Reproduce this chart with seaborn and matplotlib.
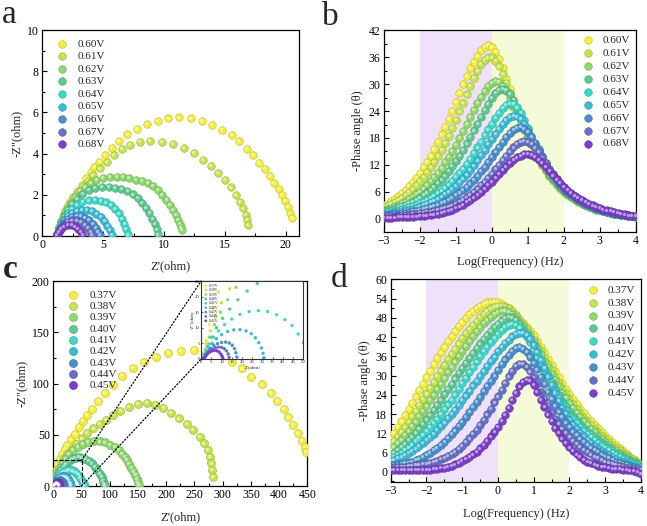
import matplotlib
matplotlib.use("Agg")
import matplotlib.pyplot as plt
import matplotlib.transforms as mtransforms
from matplotlib.colors import to_rgb
from matplotlib.patches import ConnectionPatch
from matplotlib.ticker import MultipleLocator
import numpy as np
import seaborn as sns

# potentials of the two sample sets
volts_ab = ["0.60V", "0.61V", "0.62V", "0.63V", "0.64V", "0.65V", "0.66V", "0.67V", "0.68V"]
volts_cd = ["0.37V", "0.38V", "0.39V", "0.40V", "0.41V", "0.42V", "0.43V", "0.44V", "0.45V"]
colors = ["#f3ee3c", "#c3e44c", "#8fd86c", "#5ec88f", "#3ed8c8",
          "#3bbad6", "#4a8ecd", "#6670c6", "#7b40c8"]

# shaded frequency windows (log Hz)
band_low = (-2, 0)
band_high = (0, 2)

# ---- panel a : Nyquist, 0.60-0.68 V ----
a_060_x = [1.2, 1.35, 1.55, 1.75, 2.0, 2.25, 2.5, 2.83, 3.23, 3.59, 3.97, 4.28, 4.69, 5.15, 5.70, 6.30, 6.99,
           7.75, 8.58, 9.48, 10.36, 11.26, 12.19, 13.10, 13.97, 14.77, 15.56, 16.19, 16.79, 17.34, 17.83,
           18.30, 18.71, 19.07, 19.42, 19.70, 19.94, 20.16, 20.35, 20.52]
a_060_y = [0.1, 0.4, 0.75, 1.05, 1.4, 1.65, 1.9, 2.15, 2.47, 2.80, 3.12, 3.37, 3.61, 3.93, 4.26, 4.63, 4.93,
           5.18, 5.44, 5.60, 5.71, 5.76, 5.71, 5.58, 5.39, 5.14, 4.89, 4.60, 4.24, 3.92, 3.56,
           3.24, 2.92, 2.59, 2.27, 1.99, 1.72, 1.43, 1.10, 0.86]
a_061_x = [1.2, 1.4, 1.65, 1.9, 2.2, 2.55, 2.95, 3.35, 3.75, 4.19, 4.74, 5.29, 5.89, 6.52, 7.21, 8.03, 8.85,
           9.86, 10.77, 11.67, 12.47, 13.18, 13.84, 14.47, 15.01, 15.48, 15.92, 16.24, 16.52, 16.74, 16.85, 16.93]
a_061_y = [0.1, 0.45, 0.85, 1.2, 1.55, 1.9, 2.2, 2.45, 2.68, 2.95, 3.28, 3.61, 3.93, 4.21, 4.42, 4.55, 4.60,
           4.58, 4.47, 4.26, 4.02, 3.69, 3.40, 3.07, 2.72, 2.36, 1.99, 1.66, 1.34, 1.02, 0.78, 0.53]
a_062_x = [1.2, 1.35, 1.55, 1.8, 2.05, 2.35, 2.7, 3.1, 3.5, 3.95, 4.45, 5.0, 5.55, 6.1, 6.65, 7.15, 7.7, 8.2,
           8.7, 9.1, 9.5, 9.85, 10.2, 10.5, 10.75, 10.95, 11.15, 11.3, 11.4, 11.5]
a_062_y = [0.1, 0.4, 0.7, 1.0, 1.3, 1.6, 1.9, 2.17, 2.4, 2.58, 2.72, 2.82, 2.86, 2.88, 2.86, 2.82, 2.74, 2.66,
           2.56, 2.42, 2.23, 2.0, 1.75, 1.5, 1.26, 1.02, 0.8, 0.58, 0.42, 0.28]
a_063_x = [1.2, 1.35, 1.55, 1.8, 2.1, 2.45, 2.85, 3.3, 3.8, 4.35, 4.9, 5.45, 6.0, 6.5, 7.0, 7.45, 7.85, 8.2,
           8.5, 8.8, 9.05, 9.25, 9.4, 9.5]
a_063_y = [0.08, 0.35, 0.65, 0.95, 1.25, 1.55, 1.82, 2.05, 2.22, 2.33, 2.38, 2.38, 2.35, 2.28, 2.17, 2.02,
           1.84, 1.62, 1.38, 1.12, 0.85, 0.58, 0.32, 0.08]
a_064_x = [1.2, 1.35, 1.55, 1.8, 2.1, 2.45, 2.85, 3.3, 3.8, 4.3, 4.8, 5.25, 5.65, 6.0, 6.3, 6.55, 6.75, 6.9, 7.05]
a_064_y = [0.08, 0.3, 0.58, 0.85, 1.1, 1.33, 1.52, 1.65, 1.73, 1.75, 1.72, 1.63, 1.5, 1.32, 1.1, 0.85, 0.6, 0.35, 0.08]
a_065_x = [1.2, 1.35, 1.55, 1.8, 2.1, 2.45, 2.85, 3.25, 3.65, 4.05, 4.45, 4.8, 5.1, 5.35, 5.55, 5.7]
a_065_y = [0.07, 0.28, 0.52, 0.76, 0.97, 1.13, 1.23, 1.27, 1.26, 1.2, 1.08, 0.92, 0.72, 0.5, 0.28, 0.07]
a_066_x = [1.2, 1.35, 1.55, 1.8, 2.1, 2.45, 2.8, 3.15, 3.5, 3.85, 4.15, 4.4, 4.6, 4.75]
a_066_y = [0.07, 0.25, 0.45, 0.65, 0.82, 0.93, 0.97, 0.96, 0.89, 0.77, 0.6, 0.4, 0.2, 0.05]
a_067_x = [1.2, 1.35, 1.55, 1.8, 2.1, 2.45, 2.8, 3.15, 3.5, 3.75, 3.95, 4.1]
a_067_y = [0.06, 0.22, 0.4, 0.56, 0.69, 0.76, 0.76, 0.69, 0.55, 0.38, 0.2, 0.05]
a_068_x = [1.2, 1.35, 1.55, 1.8, 2.1, 2.4, 2.7, 2.95, 3.15, 3.3]
a_068_y = [0.06, 0.2, 0.35, 0.47, 0.55, 0.55, 0.47, 0.34, 0.18, 0.04]

# ---- panels b and d : Bode phase, 10 points per decade ----
logf = [-3.0, -2.9, -2.8, -2.7, -2.6, -2.5, -2.4, -2.3, -2.2, -2.1,
        -2.0, -1.9, -1.8, -1.7, -1.6, -1.5, -1.4, -1.3, -1.2, -1.1,
        -1.0, -0.9, -0.8, -0.7, -0.6, -0.5, -0.4, -0.3, -0.2, -0.1,
        0.0, 0.1, 0.2, 0.3, 0.4, 0.5, 0.6, 0.7, 0.8, 0.9,
        1.0, 1.1, 1.2, 1.3, 1.4, 1.5, 1.6, 1.7, 1.8, 1.9,
        2.0, 2.1, 2.2, 2.3, 2.4, 2.5, 2.6, 2.7, 2.8, 2.9,
        3.0, 3.1, 3.2, 3.3, 3.4, 3.5, 3.6, 3.7, 3.8, 3.9,
        4.0]

b_060 = [3.0, 3.4, 3.9, 4.4, 5.0, 5.7, 6.4, 7.3, 8.2, 9.2,
         10.3, 11.5, 12.7, 14.1, 15.5, 17.1, 18.8, 20.5, 22.3, 24.1,
         26.0, 28.0, 30.0, 31.8, 33.5, 35.0, 36.3, 37.5, 38.3, 38.6,
         38.2, 37.2, 35.6, 33.5, 31.2, 28.8, 26.5, 24.3, 22.3, 20.3,
         18.5, 16.7, 15.0, 13.4, 12.0, 10.7, 9.5, 8.5, 7.5, 6.7,
         6.0, 5.4, 4.8, 4.3, 3.8, 3.4, 3.0, 2.7, 2.4, 2.1,
         1.9, 1.7, 1.5, 1.3, 1.2, 1.0, 0.9, 0.8, 0.7, 0.6,
         0.5]
b_061 = [2.6, 2.9, 3.3, 3.7, 4.2, 4.7, 5.3, 6.0, 6.7, 7.5,
         8.4, 9.4, 10.4, 11.5, 12.7, 14.0, 15.4, 16.9, 18.5, 20.2,
         22.0, 23.9, 25.8, 27.7, 29.6, 31.4, 33.0, 34.4, 35.4, 35.9,
         35.9, 35.2, 33.9, 32.2, 30.2, 28.1, 26.0, 24.0, 22.0, 20.1,
         18.4, 16.7, 15.0, 13.5, 12.1, 10.8, 9.6, 8.6, 7.6, 6.8,
         6.1, 5.5, 4.9, 4.4, 3.9, 3.5, 3.1, 2.7, 2.4, 2.1,
         1.9, 1.7, 1.5, 1.3, 1.2, 1.0, 0.9, 0.8, 0.7, 0.6,
         0.5]
b_062 = [2.0, 2.2, 2.5, 2.8, 3.1, 3.5, 3.9, 4.4, 4.9, 5.5,
         6.1, 6.8, 7.6, 8.4, 9.3, 10.3, 11.4, 12.6, 13.8, 15.1,
         16.5, 18.0, 19.5, 21.1, 22.7, 24.3, 25.8, 27.2, 28.4, 29.5,
         30.2, 30.6, 30.4, 29.6, 28.4, 26.8, 25.0, 23.2, 21.5, 19.8,
         18.2, 16.6, 15.1, 13.6, 12.2, 11.0, 9.8, 8.8, 7.8, 7.0,
         6.2, 5.6, 5.0, 4.5, 4.0, 3.5, 3.1, 2.8, 2.5, 2.2,
         1.9, 1.7, 1.5, 1.3, 1.2, 1.0, 0.9, 0.8, 0.7, 0.6,
         0.5]
b_063 = [1.7, 1.9, 2.1, 2.3, 2.6, 2.9, 3.2, 3.5, 3.9, 4.3,
         4.8, 5.3, 5.9, 6.5, 7.2, 8.0, 8.8, 9.7, 10.7, 11.8,
         12.9, 14.1, 15.4, 16.8, 18.2, 19.7, 21.2, 22.7, 24.2, 25.6,
         26.9, 28.0, 28.7, 29.0, 28.7, 27.8, 26.4, 24.7, 22.8, 20.9,
         19.1, 17.4, 15.7, 14.1, 12.6, 11.2, 10.0, 8.9, 7.9, 7.1,
         6.3, 5.7, 5.1, 4.6, 4.1, 3.6, 3.2, 2.8, 2.5, 2.2,
         2.0, 1.8, 1.6, 1.4, 1.2, 1.0, 0.9, 0.8, 0.7, 0.6,
         0.5]
b_064 = [1.4, 1.55, 1.7, 1.85, 2.0, 2.2, 2.4, 2.65, 2.9, 3.2,
         3.5, 3.9, 4.3, 4.7, 5.2, 5.7, 6.3, 7.0, 7.7, 8.5,
         9.3, 10.2, 11.2, 12.3, 13.4, 14.6, 15.9, 17.2, 18.6, 19.9,
         21.2, 22.4, 23.6, 24.6, 25.3, 25.7, 25.6, 24.8, 23.5, 21.9,
         20.2, 18.4, 16.7, 15.0, 13.4, 11.9, 10.6, 9.4, 8.3, 7.4,
         6.5, 5.8, 5.2, 4.7, 4.2, 3.7, 3.3, 2.9, 2.6, 2.3,
         2.0, 1.8, 1.6, 1.4, 1.2, 1.0, 0.9, 0.8, 0.7, 0.6,
         0.5]
b_065 = [1.1, 1.2, 1.3, 1.45, 1.6, 1.75, 1.9, 2.1, 2.3, 2.55,
         2.8, 3.1, 3.4, 3.75, 4.1, 4.5, 5.0, 5.5, 6.1, 6.7,
         7.4, 8.2, 9.0, 9.9, 10.9, 11.9, 13.0, 14.2, 15.4, 16.6,
         17.8, 19.0, 20.1, 21.2, 22.1, 22.7, 23.0, 22.8, 22.2, 21.1,
         19.8, 18.3, 16.7, 15.1, 13.6, 12.2, 10.8, 9.6, 8.5, 7.6,
         6.7, 6.0, 5.3, 4.8, 4.3, 3.8, 3.4, 3.0, 2.7, 2.4,
         2.1, 1.8, 1.6, 1.4, 1.3, 1.1, 1.0, 0.8, 0.7, 0.6,
         0.5]
b_066 = [0.9, 0.95, 1.0, 1.1, 1.2, 1.3, 1.4, 1.55, 1.7, 1.85,
         2.0, 2.2, 2.4, 2.65, 2.9, 3.2, 3.5, 3.9, 4.3, 4.8,
         5.3, 5.9, 6.5, 7.2, 7.9, 8.7, 9.6, 10.6, 11.6, 12.7,
         13.8, 14.9, 16.0, 17.1, 18.2, 19.1, 19.8, 20.2, 20.4, 20.0,
         19.3, 18.2, 16.9, 15.5, 14.0, 12.5, 11.1, 9.9, 8.8, 7.8,
         6.9, 6.2, 5.5, 4.9, 4.4, 3.9, 3.5, 3.1, 2.8, 2.5,
         2.2, 1.9, 1.7, 1.5, 1.3, 1.2, 1.0, 0.9, 0.8, 0.7,
         0.6]
b_067 = [0.6, 0.65, 0.7, 0.75, 0.8, 0.85, 0.9, 1.0, 1.1, 1.2,
         1.3, 1.4, 1.5, 1.65, 1.8, 2.0, 2.2, 2.45, 2.7, 3.0,
         3.4, 3.8, 4.3, 4.8, 5.4, 6.0, 6.7, 7.5, 8.3, 9.2,
         10.1, 11.1, 12.1, 13.1, 14.1, 15.0, 15.9, 16.6, 17.1, 17.4,
         17.2, 16.7, 15.9, 14.9, 13.7, 12.4, 11.1, 9.9, 8.8, 7.9,
         7.0, 6.3, 5.6, 5.0, 4.5, 4.0, 3.6, 3.2, 2.9, 2.6,
         2.3, 2.0, 1.8, 1.6, 1.4, 1.2, 1.0, 0.9, 0.8, 0.7,
         0.6]
b_068 = [0.3, 0.3, 0.3, 0.35, 0.4, 0.4, 0.4, 0.45, 0.5, 0.55,
         0.6, 0.7, 0.8, 0.9, 1.0, 1.15, 1.3, 1.5, 1.8, 2.1,
         2.4, 2.8, 3.2, 3.7, 4.2, 4.8, 5.4, 6.1, 6.8, 7.5,
         8.3, 9.1, 10.0, 10.9, 11.7, 12.4, 13.1, 13.7, 14.1, 14.4,
         14.5, 14.3, 13.8, 13.2, 12.4, 11.5, 10.6, 9.7, 8.8, 8.0,
         7.2, 6.5, 5.8, 5.2, 4.7, 4.2, 3.8, 3.4, 3.0, 2.7,
         2.4, 2.1, 1.9, 1.7, 1.5, 1.3, 1.1, 1.0, 0.8, 0.7,
         0.6]

d_037 = [10.3, 12.1, 13.9, 15.7, 17.6, 19.5, 21.5, 23.5, 25.5, 27.5,
         29.5, 31.5, 33.5, 35.4, 37.2, 39.0, 40.8, 42.4, 44.0, 45.4,
         46.8, 48.0, 49.2, 50.1, 51.0, 51.8, 52.4, 52.8, 53.0, 53.0,
         52.8, 52.4, 51.8, 51.0, 50.0, 48.9, 47.7, 46.5, 45.2, 43.9,
         42.5, 40.8, 39.0, 37.2, 35.3, 33.4, 31.5, 29.6, 27.7, 25.9,
         24.2, 22.6, 21.1, 19.7, 18.3, 17.0, 15.8, 14.6, 13.5, 12.4,
         11.3, 10.2, 9.2, 8.2, 7.3, 6.4, 5.6, 4.7, 3.9, 3.2,
         2.5]
d_038 = [8.3, 9.6, 11.0, 12.5, 14.0, 15.6, 17.3, 19.0, 20.8, 22.6,
         24.4, 26.2, 28.0, 29.8, 31.6, 33.4, 35.1, 36.8, 38.4, 40.0,
         41.7, 43.2, 44.6, 45.9, 47.1, 48.2, 49.2, 50.1, 50.9, 51.5,
         51.8, 51.8, 51.5, 50.9, 50.0, 48.9, 47.6, 46.1, 44.5, 42.8,
         41.1, 39.3, 37.5, 35.6, 33.6, 31.6, 29.6, 27.6, 25.7, 24.1,
         22.7, 21.1, 19.6, 18.2, 16.9, 15.7, 14.5, 13.4, 12.3, 11.3,
         10.3, 9.3, 8.4, 7.5, 6.7, 5.9, 5.1, 4.3, 3.6, 2.9,
         2.2]
d_039 = [6.7, 7.8, 8.9, 10.1, 11.4, 12.8, 14.2, 15.7, 17.3, 18.9,
         20.6, 22.3, 24.0, 25.7, 27.5, 29.3, 31.0, 32.7, 34.4, 36.0,
         37.6, 39.2, 40.8, 42.3, 43.8, 45.1, 46.3, 47.4, 48.4, 49.3,
         49.9, 50.3, 50.3, 49.9, 49.2, 48.1, 46.8, 45.3, 43.7, 42.0,
         40.3, 38.5, 36.6, 34.6, 32.6, 30.6, 28.6, 26.6, 24.7, 22.9,
         21.3, 19.8, 18.3, 17.0, 15.7, 14.5, 13.4, 12.3, 11.3, 10.3,
         9.3, 8.4, 7.5, 6.7, 5.9, 5.2, 4.5, 3.8, 3.2, 2.6,
         2.0]
d_040 = [5.1, 5.9, 6.8, 7.8, 8.8, 9.9, 11.0, 12.2, 13.5, 14.9,
         16.3, 17.8, 19.3, 20.9, 22.5, 24.2, 25.8, 27.5, 29.1, 30.8,
         32.4, 34.0, 35.6, 37.1, 38.6, 40.0, 41.4, 42.7, 43.9, 45.1,
         46.2, 47.2, 47.9, 48.3, 48.1, 47.3, 46.0, 44.4, 42.6, 40.6,
         38.6, 36.5, 34.4, 32.3, 30.2, 28.1, 26.0, 24.0, 22.1, 20.4,
         18.8, 17.4, 16.1, 14.9, 13.8, 12.8, 11.8, 10.9, 10.0, 9.1,
         8.3, 7.5, 6.7, 6.0, 5.3, 4.7, 4.1, 3.5, 2.9, 2.3,
         1.8]
d_041 = [4.1, 4.7, 5.3, 6.0, 6.8, 7.6, 8.5, 9.5, 10.5, 11.6,
         12.8, 14.0, 15.3, 16.6, 18.0, 19.5, 21.0, 22.5, 24.1, 25.7,
         27.6, 29.3, 31.0, 32.7, 34.4, 36.0, 37.6, 39.1, 40.5, 41.8,
         43.0, 44.2, 45.2, 45.9, 46.1, 45.8, 45.0, 43.7, 42.1, 40.3,
         38.0, 35.9, 33.8, 31.6, 29.4, 27.2, 25.1, 23.1, 21.2, 19.4,
         17.8, 16.4, 15.1, 13.9, 12.8, 11.8, 10.8, 9.9, 9.0, 8.2,
         7.4, 6.7, 6.0, 5.3, 4.7, 4.1, 3.5, 3.0, 2.5, 2.0,
         1.6]
d_042 = [3.3, 3.7, 4.2, 4.7, 5.3, 5.9, 6.6, 7.3, 8.1, 9.0,
         9.9, 10.9, 11.9, 13.0, 14.2, 15.4, 16.7, 18.0, 19.4, 20.8,
         22.3, 23.8, 25.3, 26.9, 28.4, 30.0, 31.5, 33.0, 34.5, 35.9,
         37.6, 38.9, 40.1, 41.2, 42.2, 42.9, 43.3, 43.2, 42.6, 41.4,
         39.6, 37.4, 34.9, 32.3, 29.7, 27.1, 24.6, 22.2, 20.0, 18.0,
         16.2, 14.7, 13.3, 12.1, 11.0, 10.0, 9.0, 8.1, 7.3, 6.6,
         5.9, 5.2, 4.6, 4.0, 3.5, 3.0, 2.6, 2.2, 1.9, 1.6,
         1.4]
d_043 = [2.0, 2.1, 2.3, 2.5, 2.7, 2.9, 3.2, 3.6, 4.0, 4.5,
         5.2, 5.9, 6.7, 7.5, 8.4, 9.4, 10.5, 11.7, 12.9, 14.2,
         15.6, 17.1, 18.6, 20.2, 21.8, 23.4, 25.1, 26.7, 28.4, 30.0,
         31.8, 33.5, 35.0, 36.4, 37.6, 38.5, 38.8, 38.4, 37.4, 35.9,
         34.0, 31.9, 29.6, 27.3, 25.0, 22.8, 20.7, 18.8, 17.0, 15.4,
         13.9, 12.6, 11.4, 10.3, 9.3, 8.4, 7.6, 6.8, 6.1, 5.4,
         4.8, 4.2, 3.7, 3.2, 2.8, 2.4, 2.1, 1.8, 1.5, 1.2,
         1.0]
d_044 = [1.3, 1.35, 1.4, 1.5, 1.6, 1.75, 1.9, 2.05, 2.2, 2.4,
         2.6, 2.85, 3.1, 3.5, 3.9, 4.4, 4.9, 5.6, 6.3, 7.2,
         8.1, 9.2, 10.4, 11.7, 13.1, 14.6, 16.2, 17.9, 19.7, 21.6,
         23.5, 25.6, 27.7, 29.7, 31.5, 32.9, 33.6, 33.5, 32.7, 31.3,
         29.4, 27.3, 25.0, 22.7, 20.5, 18.5, 16.6, 14.9, 13.4, 12.0,
         10.8, 9.7, 8.7, 7.8, 6.9, 6.1, 5.4, 4.8, 4.2, 3.7,
         3.2, 2.8, 2.4, 2.1, 1.8, 1.5, 1.3, 1.1, 0.9, 0.7,
         0.5]
d_045 = [0.6, 0.6, 0.6, 0.55, 0.5, 0.5, 0.5, 0.5, 0.5, 0.55,
         0.6, 0.7, 0.8, 0.95, 1.1, 1.3, 1.6, 1.9, 2.3, 2.8,
         3.3, 3.9, 4.6, 5.4, 6.3, 7.3, 8.4, 9.6, 11.0, 12.4,
         14.0, 15.8, 17.8, 20.0, 22.3, 24.6, 26.6, 28.0, 28.7, 28.5,
         27.0, 24.9, 22.5, 20.1, 17.9, 15.8, 13.8, 12.0, 10.4, 9.0,
         7.6, 6.4, 5.4, 4.5, 3.8, 3.2, 2.7, 2.3, 1.9, 1.6,
         1.4, 1.2, 1.0, 0.9, 0.8, 0.6, 0.5, 0.4, 0.2, -0.1,
         -0.8]

# ---- panel c : Nyquist, 0.37-0.45 V ----
c_037_x = [1, 2.5, 4, 6, 8.5, 12, 16, 20, 25, 31, 38, 45.5, 53, 60, 68, 80, 92, 106, 121, 141, 161, 182, 204,
           226, 249, 272, 294, 316, 334, 351, 369, 385, 397, 408, 416, 425, 433, 440, 445, 448]
c_037_y = [2, 6, 11, 16.5, 21.5, 26.5, 31.5, 36, 40.5, 45.5, 51, 57.5, 63.5, 69, 75, 83, 91, 98.5, 107.5, 115,
           121.3, 126.2, 129.8, 132, 132.7, 131.5, 128, 121.3, 114.8, 106.7, 99.2, 91.1, 83, 75.2, 67, 59.5,
           51.4, 43.9, 38.4, 33.5]
c_038_x = [1, 2.5, 4.5, 7, 10, 14, 19, 25, 32.5, 41, 50, 60, 71, 82, 93, 105, 119, 134, 150, 166, 181, 195,
           209, 223, 236, 248, 259, 267, 274, 278, 280, 281.5, 282.5]
c_038_y = [1.5, 5, 9, 13.5, 18, 22.5, 27, 31.5, 36, 41, 46.5, 51.7, 56.2, 60.5, 64.5, 69, 73.5, 77.5, 80.2, 81,
           79.5, 76, 71, 66, 60.5, 54.6, 48.1, 41.6, 35.1, 28.6, 22.1, 15.6, 9.1]
c_039_x = [0.8, 2, 4, 6.5, 9.5, 13, 17, 22, 28, 35, 43, 52, 62, 72, 82, 92, 101, 109, 116, 122, 126.5, 130.5,
           134.5, 138.5, 142, 145.5, 148.5, 150.5, 151.8]
c_039_y = [1, 3, 7, 11, 15, 19, 23, 27, 31, 35, 38.5, 41, 43, 43.8, 43.6, 42.5, 40.5, 38, 35, 31.5, 28.5, 25.3,
           21.5, 17.8, 14.2, 10.5, 6.8, 3.5, 1.2]
c_040_x = [0.8, 1.5, 3, 5, 7.5, 10.5, 14, 18, 22.5, 27.5, 33, 39, 45, 51, 57, 63, 68.5, 73.5, 78, 82, 85.5,
           88.3, 90.2, 91.2]
c_040_y = [0.5, 1.5, 4, 7, 10, 13, 16, 19, 21.8, 24.2, 26.2, 27.5, 28, 27.6, 26.5, 24.5, 22, 19, 15.5, 12, 8.5,
           5, 2.2, 0.6]
c_041_x = [1, 1.6, 2.5, 4, 6, 8.5, 11.5, 15, 19, 23.5, 28, 32.5, 37, 41, 44.5, 47.5, 50, 52, 53.5, 54.5]
c_041_y = [0.2, 1.0, 2.5, 4.8, 7, 9, 11, 12.8, 14.3, 15.2, 15.5, 15.2, 14.2, 12.6, 10.7, 8.0, 5.2, 3.2, 1.6, 0.4]
c_042_x = [1, 1.5, 2.5, 3.8, 5.5, 7.5, 10, 13, 16, 19, 22, 24.5, 26.5, 28.2, 29.5, 30.3, 30.8]
c_042_y = [0.1, 0.4, 1.8, 3.4, 5, 6.5, 7.8, 8.8, 9.3, 9.4, 9.0, 8.1, 6.8, 5.2, 3.5, 1.8, 0.4]
c_043_x = [1, 1.5, 2.3, 3.3, 4.6, 6.2, 8, 10, 12, 13.8, 15.2, 16.3, 17, 17.5]
c_043_y = [0.1, 0.3, 1.3, 2.4, 3.4, 4.3, 4.9, 5.3, 5.4, 5.1, 4.4, 3.3, 2.0, 0.6]
c_044_x = [1, 1.5, 2.2, 3.1, 4.2, 5.5, 7, 8.5, 10, 11.3, 12.4, 13.2, 13.7]
c_044_y = [0.1, 0.3, 1.0, 1.8, 2.6, 3.2, 3.6, 3.8, 3.7, 3.3, 2.6, 1.6, 0.5]
c_045_x = [1, 1.5, 2.1, 2.9, 3.9, 5.1, 6.4, 7.7, 8.8, 9.7, 10.3, 10.6]
c_045_y = [0.1, 0.2, 0.8, 1.5, 2.1, 2.5, 2.7, 2.6, 2.2, 1.5, 0.8, 0.2]

# zoomed window shown in the inset of panel c
zoom_x = (0, 50)
zoom_y = (0, 25)

a_series = [(a_060_x, a_060_y), (a_061_x, a_061_y), (a_062_x, a_062_y), (a_063_x, a_063_y), (a_064_x, a_064_y),
            (a_065_x, a_065_y), (a_066_x, a_066_y), (a_067_x, a_067_y), (a_068_x, a_068_y)]
b_series = [b_060, b_061, b_062, b_063, b_064, b_065, b_066, b_067, b_068]
c_series = [(c_037_x, c_037_y), (c_038_x, c_038_y), (c_039_x, c_039_y), (c_040_x, c_040_y), (c_041_x, c_041_y),
            (c_042_x, c_042_y), (c_043_x, c_043_y), (c_044_x, c_044_y), (c_045_x, c_045_y)]
d_series = [d_037, d_038, d_039, d_040, d_041, d_042, d_043, d_044, d_045]

sns.set_style("ticks")
plt.rcParams["font.family"] = ["Liberation Serif", "DejaVu Serif"]
plt.rcParams["axes.linewidth"] = 0.9

fig = plt.figure(figsize=(6.47, 5.26), dpi=100)
ax_a = fig.add_axes([0.0654, 0.5513, 0.3967, 0.3916])
ax_b = fig.add_axes([0.5935, 0.5589, 0.3890, 0.3840])
ax_c = fig.add_axes([0.0824, 0.0760, 0.3926, 0.3897])
ax_d = fig.add_axes([0.6039, 0.0842, 0.3868, 0.3848])


def balls(ax, xs, ys, col, size, label):
    # shiny sphere look: coloured dot + small offset highlight
    edge = tuple(np.array(to_rgb(col)) * 0.8)
    sns.scatterplot(x=xs, y=ys, color=col, s=size, edgecolor=edge, linewidth=0.4,
                    label=label, ax=ax, zorder=3, legend=False)
    hl = mtransforms.offset_copy(ax.transData, fig=fig, x=-0.6, y=0.6, units="points")
    ax.scatter(xs, ys, s=size * 0.18, color="white", alpha=0.5, linewidths=0,
               transform=hl, zorder=3)


def style(ax, xmaj, xmin, ymaj, ymin, size=8.5):
    ax.xaxis.set_major_locator(MultipleLocator(xmaj))
    ax.xaxis.set_minor_locator(MultipleLocator(xmin))
    ax.yaxis.set_major_locator(MultipleLocator(ymaj))
    ax.yaxis.set_minor_locator(MultipleLocator(ymin))
    ax.tick_params(which="both", direction="in", top=False, right=False,
                   labelsize=size, colors="black", width=0.8)
    ax.tick_params(which="major", length=3.5, pad=2.5)
    ax.tick_params(which="minor", length=2)
    for sp in ax.spines.values():
        sp.set_visible(True)
        sp.set_color("black")


leg_kw = dict(frameon=False, fontsize=8, handlelength=2.0, borderpad=0.2)

# ---- a ----
for (xs, ys), v, col in zip(a_series, volts_ab, colors):
    balls(ax_a, xs, ys, col, 30, v)
ax_a.set_xlim(0, 21.1)
ax_a.set_ylim(0, 10)
style(ax_a, 5, 2.5, 2, 1)
ax_a.set_xlabel("Z'(ohm)", fontsize=9, labelpad=6)
ax_a.set_ylabel('-Z"(ohm)', fontsize=9, labelpad=3)
ax_a.legend(loc="upper left", handletextpad=0.35, labelspacing=0.25,
            borderaxespad=0.6, **leg_kw)

# ---- b ----
ax_b.axvspan(*band_low, color="#eee1f9", lw=0, zorder=0)
ax_b.axvspan(*band_high, color="#f5fbd8", lw=0, zorder=0)
for ys, v, col in zip(b_series, volts_ab, colors):
    balls(ax_b, logf, ys, col, 30, v)
ax_b.set_xlim(-3, 4)
ax_b.set_ylim(-2.9, 42)
style(ax_b, 1, 0.5, 6, 3)
ax_b.set_xlabel("Log(Frequency) (Hz)", fontsize=9, labelpad=6)
ax_b.set_ylabel("-Phase angle (θ)", fontsize=9, labelpad=3)
ax_b.legend(loc="upper right", handletextpad=0.3, labelspacing=0.28,
            borderaxespad=0.3, **leg_kw)

# ---- c ----
for (xs, ys), v, col in zip(c_series, volts_cd, colors):
    balls(ax_c, xs, ys, col, 34, v)
ax_c.set_xlim(0, 450)
ax_c.set_ylim(0, 200)
style(ax_c, 50, 25, 50, 25)
ax_c.set_xlabel("Z'(ohm)", fontsize=9, labelpad=7)
ax_c.set_ylabel('-Z"(ohm)', fontsize=9, labelpad=3)
ax_c.legend(loc="upper left", handletextpad=0.45, labelspacing=0.14,
            borderaxespad=0.6, **leg_kw)
ax_c.plot([zoom_x[0], zoom_x[1], zoom_x[1]], [zoom_y[1], zoom_y[1], zoom_y[0]],
          color="black", ls="--", lw=0.8, zorder=4)

axins = ax_c.inset_axes([0.582, 0.62, 0.402, 0.38])
axins.set_facecolor("white")
for (xs, ys), v, col in zip(c_series, volts_cd, colors):
    sns.scatterplot(x=xs, y=ys, color=col, s=6, edgecolor="none", label=v,
                    ax=axins, legend=False)
axins.set_xlim(*zoom_x)
axins.set_ylim(*zoom_y)
axins.xaxis.set_major_locator(MultipleLocator(5))
axins.yaxis.set_major_locator(MultipleLocator(5))
axins.tick_params(direction="in", length=1.5, width=0.5, labelsize=3.5, pad=1)
for sp in axins.spines.values():
    sp.set_visible(True)
    sp.set_linewidth(0.8)
    sp.set_color("#333333")
axins.set_xlabel("Z'(ohm)", fontsize=3.5, labelpad=0.5)
axins.set_ylabel('-Z"(ohm)', fontsize=3.5, labelpad=0.5)
axins.legend(loc="upper left", frameon=False, fontsize=2.8, markerscale=0.8,
             handletextpad=0.3, labelspacing=0.1, borderaxespad=0.3, handlelength=1.0)

for yy, yf in [(zoom_y[1], 1), (zoom_y[0], 0)]:
    con = ConnectionPatch(xyA=(zoom_x[1], yy), coordsA=ax_c.transData,
                          xyB=(0, yf), coordsB=axins.transAxes,
                          color="black", ls=":", lw=0.9)
    fig.add_artist(con)

# ---- d ----
ax_d.axvspan(*band_low, color="#eee1f9", lw=0, zorder=0)
ax_d.axvspan(*band_high, color="#f5fbd8", lw=0, zorder=0)
for ys, v, col in zip(d_series, volts_cd, colors):
    balls(ax_d, logf, ys, col, 30, v)
ax_d.set_xlim(-3, 4)
ax_d.set_ylim(-3.1, 60)
style(ax_d, 1, 0.5, 6, 3)
ax_d.set_xlabel("Log(Frequency) (Hz)", fontsize=9, labelpad=8)
ax_d.set_ylabel("-Phase angle (θ)", fontsize=9, labelpad=3)
ax_d.legend(loc="upper right", handletextpad=0.3, labelspacing=0.28,
            borderaxespad=0.3, **leg_kw)

# panel letters
fig.text(0.003, 0.956, "a", fontsize=24, va="baseline")
fig.text(0.498, 0.952, "b", fontsize=24, va="baseline")
fig.text(0.005, 0.4715, "c", fontsize=24, fontweight="bold", va="baseline")
fig.text(0.5116, 0.4544, "d", fontsize=24, va="baseline")

fig.savefig("out.png", dpi=100)
